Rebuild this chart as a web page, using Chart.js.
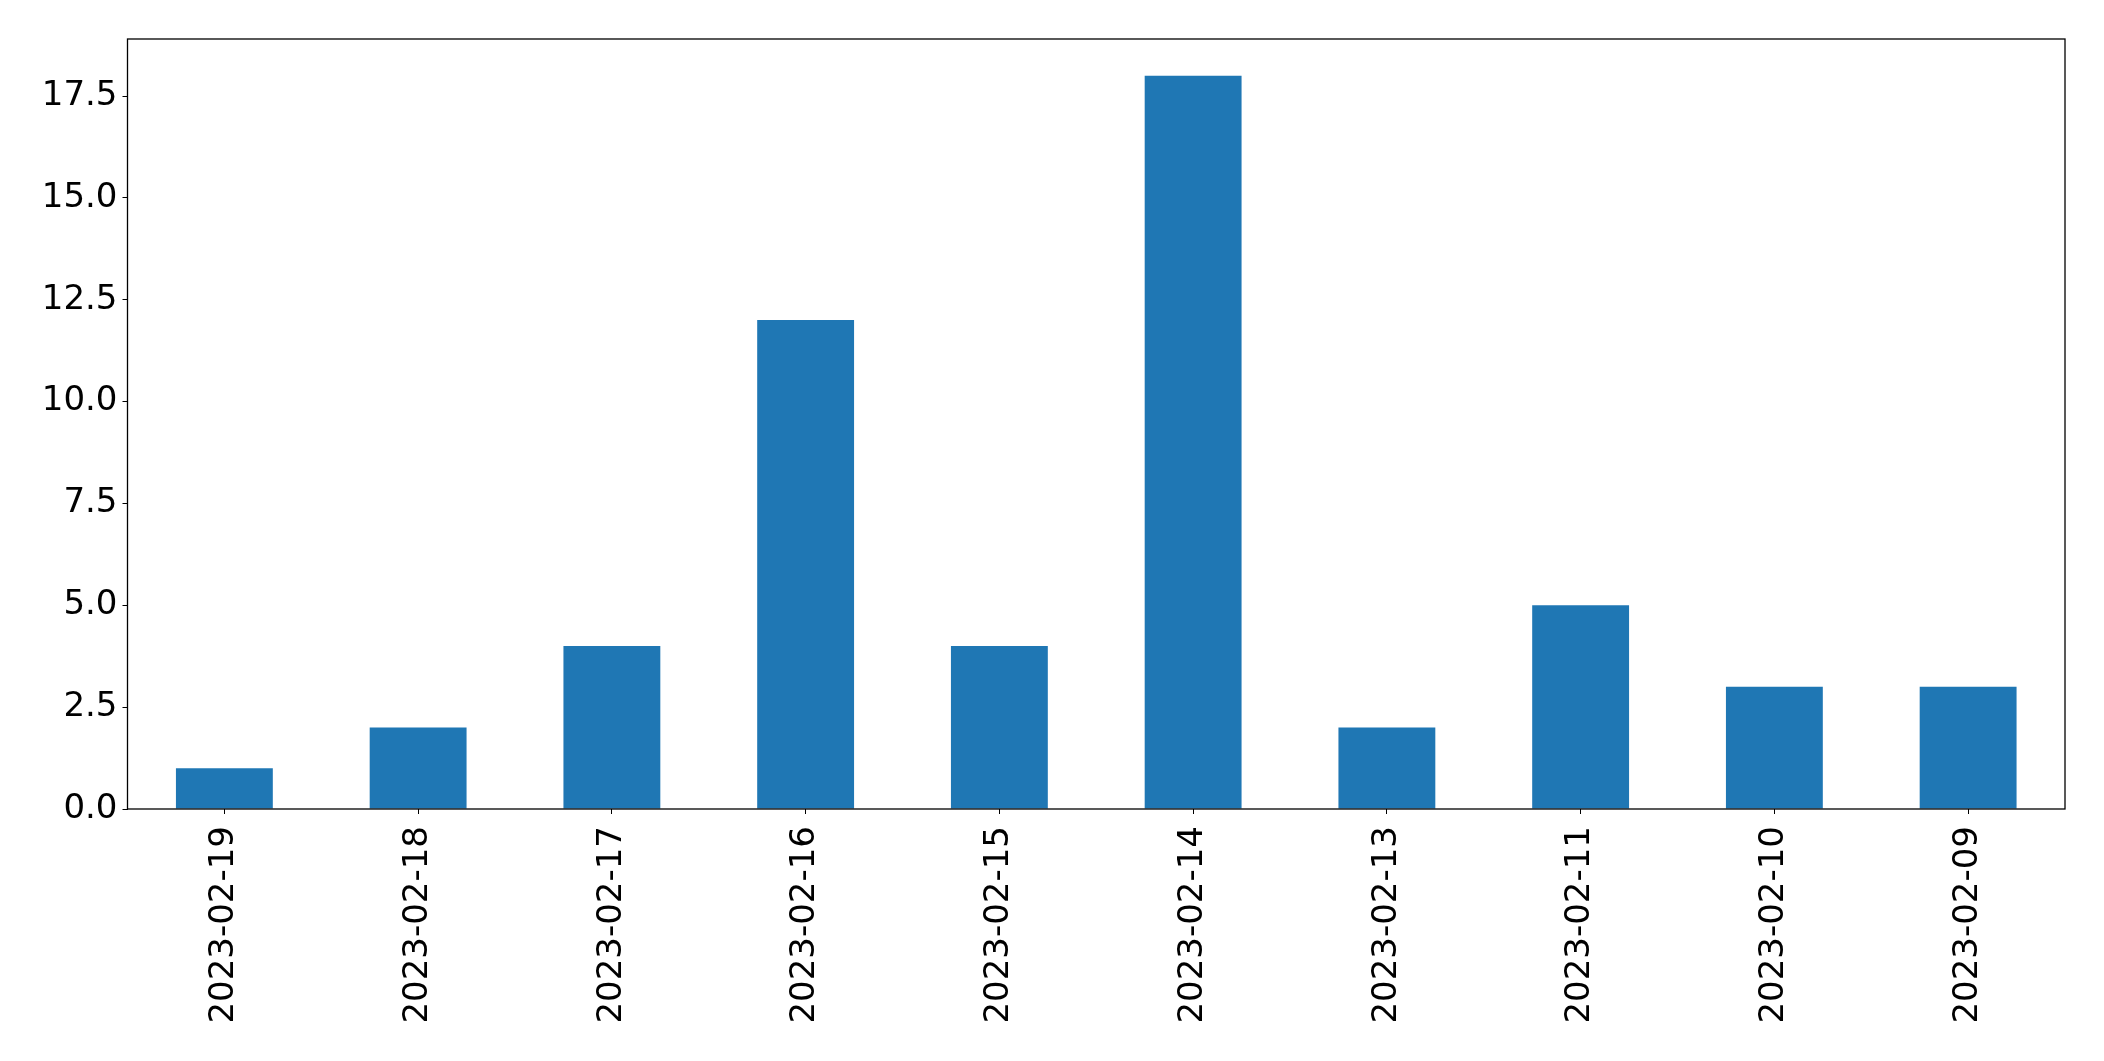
<!DOCTYPE html>
<html>
<head>
<meta charset="utf-8">
<script src="https://cdn.jsdelivr.net/npm/chart.js@4"></script>
<style>
  html, body { margin: 0; padding: 0; background: #fff; }
  #wrap { width: 2104px; height: 1061px; }
</style>
</head>
<body>
<div id="wrap"><canvas id="chart" width="2104" height="1061"></canvas></div>
<script>
// ===== DATA =====
const dates = ["2023-02-19", "2023-02-18", "2023-02-17", "2023-02-16", "2023-02-15",
               "2023-02-14", "2023-02-13", "2023-02-11", "2023-02-10", "2023-02-09"];
const counts = [1, 2, 4, 12, 4, 18, 2, 5, 3, 3];
const yTicks = [0, 2.5, 5, 7.5, 10, 12.5, 15, 17.5];

// frame around the plot area (matplotlib style)
const frame = {
    id: "frame",
    afterDraw(chart) {
        const a = chart.chartArea;
        const ctx = chart.ctx;
        ctx.save();
        ctx.strokeStyle = "#000";
        ctx.lineWidth = 1.3;
        ctx.strokeRect(a.left, a.top, a.right - a.left, a.bottom - a.top);
        ctx.restore();
    },
};

Chart.defaults.font.family = "'DejaVu Sans', sans-serif";
Chart.defaults.color = "#000";

new Chart(document.getElementById("chart").getContext("2d"), {
    type: "bar",
    data: {
        labels: dates,
        datasets: [{
            data: counts,
            backgroundColor: "#1f77b4",
            categoryPercentage: 1,
            barPercentage: 0.5,
        }],
    },
    options: {
        responsive: false,
        animation: false,
        layout: { padding: { top: 39, right: 39, left: 0, bottom: 0 } },
        plugins: { legend: { display: false }, tooltip: { enabled: false } },
        scales: {
            x: {
                grid: { display: true, offset: false, drawOnChartArea: false, drawTicks: true, tickLength: 5, color: "#000" },
                border: { display: false },
                ticks: { font: { size: 34 }, padding: 12, maxRotation: 90, minRotation: 90, autoSkip: false },
                afterFit(scale) { scale.height = 252; },
            },
            y: {
                min: 0,
                max: 18.9,
                grid: { display: true, drawOnChartArea: false, drawTicks: true, tickLength: 5, color: "#000" },
                border: { display: false },
                ticks: {
                    font: { size: 34 },
                    padding: 5,
                    callback: (v) => v.toFixed(1),
                },
                afterBuildTicks(scale) { scale.ticks = yTicks.map((v) => ({ value: v })); },
                afterFit(scale) { scale.width = 127.5; },
            },
        },
    },
    plugins: [frame],
});
</script>
</body>
</html>
